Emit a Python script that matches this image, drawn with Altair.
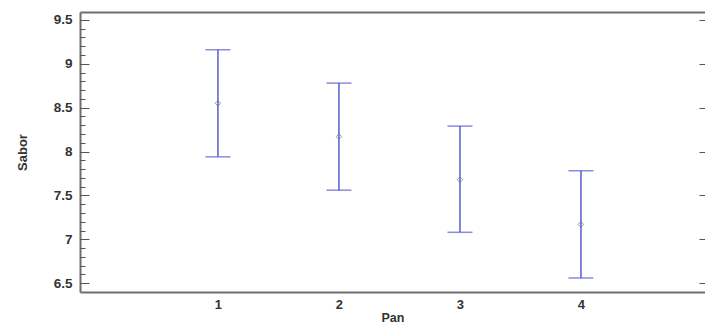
import altair as alt
import pandas as pd

pan = [1, 2, 3, 4]
media = [8.55, 8.17, 7.68, 7.17]
lower = [7.94, 7.56, 7.08, 6.56]
upper = [9.16, 8.78, 8.29, 7.78]

major_ticks = [6.5, 7.0, 7.5, 8.0, 8.5, 9.0, 9.5]
minor_ticks = [round(6.5 + 0.1 * i, 1) for i in range(31)]

df = pd.DataFrame({"Pan": pan, "Sabor": media, "lo": lower, "hi": upper})

W, H = 625, 280
FONT = "Liberation Sans"
BLUE = "#5a5ad2"
GREY = "#707070"
FRAME = "#6e6e6e"

xs = alt.Scale(domain=[-0.14, 5.025], nice=False, zero=False)
ys = alt.Scale(domain=[6.4, 9.59], nice=False, zero=False)

base = alt.Chart(df)

bars = base.mark_rule(color=BLUE, strokeWidth=1.5).encode(
    x=alt.X("Pan:Q", scale=xs,
            axis=alt.Axis(values=pan, format="d", title="Pan", ticks=False, domain=True,
                          domainColor=FRAME, domainWidth=2,
                          grid=False, labelFont=FONT, labelFontWeight="bold", labelFontSize=13,
                          labelColor="#333333", labelPadding=6, titleFont=FONT,
                          titleFontWeight="bold", titleFontSize=12.5, titleColor="#333333",
                          titlePadding=0)),
    y=alt.Y("lo:Q", scale=ys,
            axis=alt.Axis(values=major_ticks, title="Sabor", ticks=False, domain=True,
                          domainColor=FRAME, domainWidth=2,
                          grid=False, labelFont=FONT, labelFontWeight="bold", labelFontSize=13.5,
                          labelColor="#333333", labelPadding=8,
                          labelExpr="replace(datum.label, '.0', '')",
                          titleFont=FONT, titleFontWeight="bold", titleFontSize=13,
                          titleColor="#333333", titlePadding=24)),
    y2="hi:Q",
)

caps_lo = base.mark_tick(color=BLUE, thickness=1.5, size=25, orient="horizontal").encode(
    x=alt.X("Pan:Q", scale=xs), y=alt.Y("lo:Q", scale=ys))
caps_hi = base.mark_tick(color=BLUE, thickness=1.5, size=25, orient="horizontal").encode(
    x=alt.X("Pan:Q", scale=xs), y=alt.Y("hi:Q", scale=ys))
pts = base.mark_point(shape="diamond", filled=False, color=GREY, size=30, strokeWidth=1).encode(
    x=alt.X("Pan:Q", scale=xs), y=alt.Y("Sabor:Q", scale=ys))

main = alt.layer(bars, caps_lo, caps_hi, pts)


def tick_layer(values, size, orient, offset):
    return base.mark_point(opacity=0).encode(
        y=alt.Y("Sabor:Q", scale=ys,
                axis=alt.Axis(orient=orient, offset=offset, values=values, labels=False,
                              title=None, ticks=True, tickSize=size, tickColor="#555555",
                              tickWidth=1, domain=False, grid=False)),
    )


minor_l = tick_layer(minor_ticks, 5, "right", -W)
major_l = tick_layer(major_ticks, 9, "right", -W)
major_r = tick_layer(major_ticks, 6, "left", -W)

top_frame = base.mark_point(opacity=0).encode(
    x=alt.X("Pan:Q", scale=xs,
            axis=alt.Axis(orient="top", labels=False, ticks=False, title=None, grid=False,
                          domain=True, domainColor=FRAME, domainWidth=2)),
    y=alt.Y("Sabor:Q", scale=ys, axis=None),
)

chart = alt.layer(main, minor_l, major_l, major_r, top_frame).resolve_axis(
    y="independent", x="independent"
).properties(
    width=W, height=H,
    autosize=alt.AutoSizeParams(type="none"),
    padding={"left": 72, "top": 4, "right": 0, "bottom": 33},
).configure_view(stroke=None)

chart.save("out.html", embed_options={"renderer": "svg", "actions": False})
